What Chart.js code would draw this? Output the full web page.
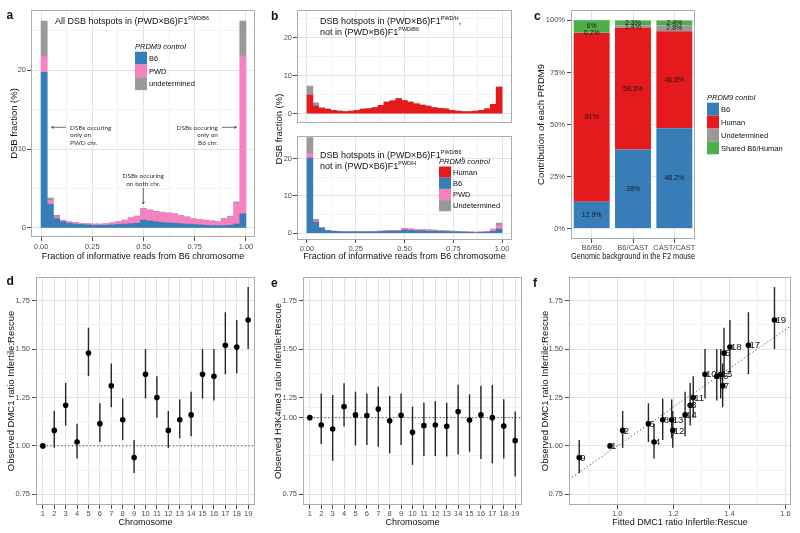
<!DOCTYPE html>
<html>
<head>
<meta charset="utf-8">
<title>DSB hotspots and DMC1 ratios</title>
<script src="https://cdn.jsdelivr.net/npm/chart.js@4.4.1/dist/chart.umd.min.js"></script>
<style>
  body { margin: 0; background: #fff; }
  #fig { position: relative; width: 800px; height: 533px; overflow: hidden; background: #fff; }
  #fig canvas { position: absolute; }
  #notes { position: absolute; left: 0; top: 0; z-index: 2; pointer-events: none; }
</style>
</head>
<body>
<div id="fig">
  <svg id="notes" width="800" height="533" font-family="Liberation Sans, Arial, sans-serif" fill="#111"></svg>
</div>
<script>
// ---- data ----
const nBins = 33;
const binMid = Array.from({ length: nBins }, (_, i) => (i + 0.5) / nBins);

// a: all hotspots, % per bin
const aB6 = [19.7, 3.0, 1.2, 0.8, 0.6, 0.5, 0.45, 0.4, 0.35, 0.35, 0.35, 0.4, 0.45, 0.5, 0.55, 0.6, 1.0,
  0.9, 0.8, 0.7, 0.65, 0.6, 0.55, 0.5, 0.45, 0.4, 0.35, 0.3, 0.3, 0.3, 0.35, 0.5, 1.8];
const aPWD = [2.0, 0.5, 0.2, 0.15, 0.15, 0.2, 0.15, 0.15, 0.15, 0.15, 0.2, 0.25, 0.35, 0.5, 0.75, 0.9, 1.45,
  1.35, 1.25, 1.3, 1.25, 1.2, 1.05, 0.9, 0.75, 0.7, 0.65, 0.6, 0.5, 0.85, 1.05, 2.6, 20.0];
const aUndet = [4.5, 0.3, 0.2, 0.05, 0.05, 0, 0, 0, 0, 0, 0, 0, 0, 0, 0, 0, 0.05,
  0.05, 0.05, 0, 0, 0, 0, 0, 0, 0, 0, 0, 0, 0.05, 0.1, 0.2, 4.4];

// b: hotspots specific to each F1
const bTopHuman = [4.9, 2.0, 1.4, 1.2, 0.9, 0.7, 0.6, 0.7, 0.9, 1.2, 1.35, 1.6, 2.2, 3.1, 3.4, 4.0, 3.5,
  3.1, 2.6, 2.3, 2.0, 1.6, 1.4, 1.3, 0.9, 0.7, 0.6, 0.6, 0.7, 0.9, 1.3, 2.5, 7.0];
const bTopUndet = [2.4, 0.9, 0.2, 0, 0, 0, 0, 0, 0, 0, 0, 0, 0, 0, 0, 0, 0,
  0, 0, 0, 0, 0, 0, 0, 0, 0, 0, 0, 0, 0, 0, 0, 0];
const bBotB6 = [20.1, 3.0, 1.3, 0.7, 0.5, 0.45, 0.4, 0.35, 0.35, 0.35, 0.35, 0.4, 0.45, 0.5, 0.55, 0.55, 0.9,
  0.8, 0.7, 0.65, 0.6, 0.55, 0.5, 0.45, 0.4, 0.35, 0.3, 0.25, 0.2, 0.25, 0.3, 0.5, 1.1];
const bBotPWD = [1.3, 0.3, 0.05, 0.05, 0.05, 0.05, 0.05, 0.05, 0.05, 0.05, 0.1, 0.1, 0.15, 0.2, 0.25, 0.25, 0.4,
  0.35, 0.3, 0.3, 0.3, 0.3, 0.3, 0.25, 0.2, 0.15, 0.1, 0.1, 0.1, 0.15, 0.2, 0.5, 1.0];
const bBotUndet = [4.2, 0.4, 0.2, 0.05, 0, 0, 0, 0, 0, 0, 0, 0, 0, 0, 0, 0, 0,
  0, 0, 0, 0, 0, 0, 0, 0, 0, 0, 0, 0, 0, 0, 0.1, 0.6];

// c: contribution of each PRDM9 (%)
const backgrounds = ['B6/B6', 'B6/CAST', 'CAST/CAST'];
const cB6 = [12.9, 38, 48.2];
const cHuman = [81, 58.3, 46.6];
const cUndet = [0.2, 1.4, 2.8];
const cShared = [6, 2.3, 2.4];

// d-f: per chromosome ratios
const chromosomes = [1, 2, 3, 4, 5, 6, 7, 8, 9, 10, 11, 12, 13, 14, 15, 16, 17, 18, 19];
const dmc1Obs = [1.00, 1.08, 1.21, 1.02, 1.48, 1.115, 1.31, 1.135, 0.94, 1.37, 1.25, 1.08, 1.135, 1.16, 1.37, 1.36, 1.52, 1.51, 1.65];
const dmc1Lo = [1.00, 0.99, 1.105, 0.935, 1.36, 1.02, 1.20, 1.03, 0.86, 1.245, 1.145, 0.99, 1.04, 1.05, 1.245, 1.235, 1.37, 1.375, 1.50];
const dmc1Hi = [1.00, 1.18, 1.325, 1.115, 1.61, 1.22, 1.425, 1.245, 1.03, 1.50, 1.36, 1.18, 1.24, 1.28, 1.50, 1.50, 1.69, 1.65, 1.82];
const h3Obs = [1.00, 0.976, 0.963, 1.036, 1.009, 1.007, 1.028, 0.990, 1.008, 0.952, 0.974, 0.976, 0.972, 1.020, 0.992, 1.009, 1.000, 0.973, 0.925];
const h3Lo = [1.00, 0.914, 0.859, 0.971, 0.909, 0.911, 0.905, 0.884, 0.911, 0.846, 0.875, 0.875, 0.873, 0.880, 0.889, 0.865, 0.851, 0.867, 0.808];
const h3Hi = [1.00, 1.079, 1.074, 1.112, 1.085, 1.079, 1.101, 1.071, 1.079, 1.036, 1.049, 1.054, 1.049, 1.107, 1.076, 1.104, 1.107, 1.060, 1.020];
const dmc1Fit = [0.974, 1.019, 1.26, 1.131, 1.381, 1.111, 1.376, 1.162, 0.864, 1.313, 1.271, 1.198, 1.194, 1.242, 1.369, 1.355, 1.468, 1.402, 1.561];

// tick labels
const fracTicks = [0, 0.25, 0.5, 0.75, 1];
const pctTicks = [0, 10, 20];
const shareTicks = [0, 25, 50, 75, 100];
const ratioTicks = [0.75, 1.0, 1.25, 1.5, 1.75];
const eTickVals = [0.75, 1.0, 1.065, 1.224, 1.382];
const eTickText = ['0.75', '1.00', '1.25', '1.50', '1.75'];
const fitTicks = [1.0, 1.2, 1.4, 1.6];

const col = { B6: '#377EB8', PWD: '#F781BF', Undet: '#999999', Human: '#E41A1C', Shared: '#4DAF4A' };
const FONT = '"Liberation Sans", Arial, sans-serif';

// ---- helpers ----
function mids(t) {
  const s = t[1] - t[0];
  return [t[0] - s / 2].concat(t.map(v => v + s / 2));
}
function between(t) { return t.slice(1).map((v, i) => (v + t[i]) / 2); }

function makeCanvas(left, top, w, h) {
  const c = document.createElement('canvas');
  c.width = w; c.height = h;
  c.style.left = left + 'px'; c.style.top = top + 'px';
  c.style.width = w + 'px'; c.style.height = h + 'px';
  document.getElementById('fig').insertBefore(c, document.getElementById('notes'));
  return c.getContext('2d');
}

function axis(o) {
  const major = o.major;
  const minor = (o.minor || []).filter(v => v > o.min && v < o.max);
  const idx = v => major.findIndex(m => Math.abs(m - v) < 1e-9);
  const horiz = o.pos === 'bottom';
  return {
    type: 'linear', position: o.pos, min: o.min, max: o.max, bounds: 'data', stacked: o.stacked, offset: false,
    afterBuildTicks: s => { s.ticks = major.concat(minor).sort((p, q) => p - q).map(v => ({ value: v })); },
    afterFit: s => { if (horiz) s.height = o.size; else s.width = o.size; },
    border: { display: false },
    grid: {
      offset: false,
      drawTicks: !o.noTicks, tickLength: o.noTicks ? 0 : 4,
      color: c => (c.tick && idx(c.tick.value) >= 0) ? '#e3e3e3' : '#f3f3f3',
      tickColor: c => (c.tick && idx(c.tick.value) >= 0) ? '#4d4d4d' : 'rgba(0,0,0,0)'
    },
    ticks: {
      display: !o.noLabels, autoSkip: false, maxRotation: 0, padding: o.tickPad ?? 2,
      color: '#4d4d4d', font: { family: FONT, size: 7.5 },
      callback: v => { const k = idx(v); return k < 0 ? '' : o.labels[k]; }
    },
    title: o.title ? {
      display: true, text: o.title, color: '#111', font: { family: FONT, size: horiz ? 9 : 9.5 },
      padding: horiz ? { top: 0, bottom: o.titlePad } : { top: o.titlePad, bottom: 0 }
    } : { display: false }
  };
}

function base(t, r, scales) {
  return {
    responsive: false, animation: false, events: [],
    layout: { padding: { left: 0, top: t, right: r, bottom: 0 } },
    plugins: { legend: { display: false }, tooltip: { enabled: false } },
    scales
  };
}

function hist(label, arr, color) {
  return {
    label, data: binMid.map((x, i) => ({ x, y: arr[i] })), backgroundColor: color,
    borderWidth: 0, barPercentage: 1, categoryPercentage: 1, stack: 's'
  };
}

const panelBox = {
  id: 'panelBox',
  afterDraw(chart) {
    const a = chart.chartArea, ctx = chart.ctx;
    ctx.save();
    ctx.strokeStyle = '#ababab'; ctx.lineWidth = 1;
    ctx.strokeRect(Math.round(a.left) + 0.5, Math.round(a.top) + 0.5, Math.round(a.width) - 1, Math.round(a.height) - 1);
    ctx.restore();
  }
};

function errorBars(xs, lo, hi) {
  return {
    id: 'errorBars',
    beforeDatasetsDraw(chart) {
      const { ctx, scales: { x, y } } = chart;
      ctx.save();
      ctx.strokeStyle = '#262626'; ctx.lineWidth = 1.4;
      xs.forEach((v, i) => {
        if (hi[i] <= lo[i]) return;
        const px = x.getPixelForValue(v);
        ctx.beginPath();
        ctx.moveTo(px, y.getPixelForValue(lo[i]));
        ctx.lineTo(px, y.getPixelForValue(hi[i]));
        ctx.stroke();
      });
      ctx.restore();
    }
  };
}

function dottedLine(f) {
  return {
    id: 'dotted',
    beforeDatasetsDraw(chart) {
      const { ctx, chartArea: a, scales: { x, y } } = chart;
      ctx.save();
      ctx.beginPath(); ctx.rect(a.left, a.top, a.width, a.height); ctx.clip();
      ctx.setLineDash([1.2, 2.4]);
      ctx.strokeStyle = '#444'; ctx.lineWidth = 1;
      ctx.beginPath();
      ctx.moveTo(x.getPixelForValue(x.min), y.getPixelForValue(f(x.min)));
      ctx.lineTo(x.getPixelForValue(x.max), y.getPixelForValue(f(x.max)));
      ctx.stroke();
      ctx.restore();
    }
  };
}

const segLabels = {
  id: 'segLabels',
  afterDatasetsDraw(chart) {
    const ctx = chart.ctx;
    ctx.save();
    ctx.font = '7px ' + FONT; ctx.fillStyle = '#1a1a1a';
    ctx.textAlign = 'center'; ctx.textBaseline = 'middle';
    chart.data.datasets.forEach((ds, di) => {
      chart.getDatasetMeta(di).data.forEach((bar, i) => {
        ctx.fillText(ds.data[i] + '%', bar.x, (bar.y + bar.base) / 2);
      });
    });
    ctx.restore();
  }
};

const chrLabels = {
  id: 'chrLabels',
  afterDatasetsDraw(chart) {
    const ctx = chart.ctx;
    ctx.save();
    ctx.font = '9.5px ' + FONT; ctx.fillStyle = '#111';
    ctx.textAlign = 'left'; ctx.textBaseline = 'middle';
    chart.getDatasetMeta(0).data.forEach((pt, i) => ctx.fillText(String(chromosomes[i]), pt.x + 1, pt.y + 0.5));
    ctx.restore();
  }
};

function dots(xs, ys) {
  return {
    data: xs.map((x, i) => ({ x, y: ys[i] })),
    pointRadius: 2.8, pointBackgroundColor: '#000', pointBorderWidth: 0, showLine: false
  };
}

// ---- a ----
new Chart(makeCanvas(0, 0, 262, 266), {
  type: 'bar',
  data: { datasets: [hist('B6', aB6, col.B6), hist('PWD', aPWD, col.PWD), hist('undetermined', aUndet, col.Undet)] },
  options: base(10, 7, {
    x: axis({ pos: 'bottom', min: -0.049, max: 1.044, major: fracTicks, minor: mids(fracTicks),
      labels: fracTicks.map(v => v.toFixed(2)), size: 29, tickPad: 1,
      title: 'Fraction of informative reads from B6 chromosome', titlePad: 4.5 }),
    y: axis({ pos: 'left', min: -1.14, max: 27.6, major: pctTicks, minor: mids(pctTicks), stacked: true,
      labels: pctTicks.map(String), size: 31, tickPad: 1, title: 'DSB fraction (%)', titlePad: 9 })
  }),
  plugins: [panelBox]
});

// ---- b top ----
new Chart(makeCanvas(282, 0, 235, 128), {
  type: 'bar',
  data: { datasets: [hist('Human', bTopHuman, col.Human), hist('Undetermined', bTopUndet, col.Undet)] },
  options: base(10, 5, {
    x: axis({ pos: 'bottom', min: -0.051, max: 1.051, major: fracTicks, minor: mids(fracTicks),
      labels: fracTicks.map(v => v.toFixed(2)), size: 1, noTicks: true, noLabels: true }),
    y: axis({ pos: 'left', min: -2.3, max: 27.3, major: pctTicks, minor: mids(pctTicks), stacked: true,
      labels: pctTicks.map(String), size: 15, tickPad: 1 })
  }),
  plugins: [panelBox]
});

// ---- b bottom ----
new Chart(makeCanvas(282, 130, 235, 136), {
  type: 'bar',
  data: { datasets: [hist('B6', bBotB6, col.B6), hist('PWD', bBotPWD, col.PWD), hist('Undetermined', bBotUndet, col.Undet)] },
  options: base(1, 5, {
    x: axis({ pos: 'bottom', min: -0.051, max: 1.051, major: fracTicks, minor: mids(fracTicks),
      labels: fracTicks.map(v => v.toFixed(2)), size: 27, tickPad: 1,
      title: 'Fraction of informative reads from B6 chromosome', titlePad: 4.5 }),
    y: axis({ pos: 'left', min: -1.54, max: 26.15, major: pctTicks, minor: mids(pctTicks), stacked: true,
      labels: pctTicks.map(String), size: 15, tickPad: 1 })
  }),
  plugins: [panelBox]
});

// ---- c ----
const segment = (label, arr, color) => ({ label, data: arr, backgroundColor: color, borderWidth: 0, barPercentage: 0.87, categoryPercentage: 1 });
new Chart(makeCanvas(535, 0, 165, 266), {
  type: 'bar',
  data: {
    labels: backgrounds,
    datasets: [segment('B6', cB6, col.B6), segment('Human', cHuman, col.Human),
      segment('Undetermined', cUndet, col.Undet), segment('Shared B6/Human', cShared, col.Shared)]
  },
  options: base(10, 5, {
    x: {
      type: 'category', stacked: true, offset: true,
      afterFit: s => { s.height = 27; },
      border: { display: false },
      grid: { offset: false, color: '#e3e3e3', tickColor: '#4d4d4d', tickLength: 4 },
      ticks: { color: '#4d4d4d', font: { family: FONT, size: 7.5 }, padding: 0, maxRotation: 0, autoSkip: false },
      title: { display: true, text: 'Genomic background in the F2 mouse', color: '#111', font: { family: FONT, size: 9 }, padding: { top: 0, bottom: 4.5 } }
    },
    y: axis({ pos: 'left', min: -5, max: 105, major: shareTicks, minor: mids(shareTicks), stacked: true,
      labels: shareTicks.map(v => v + '%'), size: 36, tickPad: 2, title: 'Contribution of each PRDM9', titlePad: 0.6 })
  }),
  plugins: [segLabels, panelBox]
});

// ---- d ----
new Chart(makeCanvas(0, 270, 262, 263), {
  type: 'scatter',
  data: { datasets: [dots(chromosomes, dmc1Obs)] },
  options: base(7, 7, {
    x: axis({ pos: 'bottom', min: 0.4, max: 19.6, major: chromosomes, labels: chromosomes.map(String),
      size: 28, tickPad: 0.5, title: 'Chromosome', titlePad: 5.3 }),
    y: axis({ pos: 'left', min: 0.695, max: 1.872, major: ratioTicks, minor: mids(ratioTicks),
      labels: ratioTicks.map(v => v.toFixed(2)), size: 36, tickPad: 2,
      title: 'Observed DMC1 ratio Infertile:Rescue', titlePad: 6 })
  }),
  plugins: [dottedLine(() => 1), errorBars(chromosomes, dmc1Lo, dmc1Hi), panelBox]
});

// ---- e ----
new Chart(makeCanvas(265, 270, 262, 263), {
  type: 'scatter',
  data: { datasets: [dots(chromosomes, h3Obs)] },
  options: base(7, 5, {
    x: axis({ pos: 'bottom', min: 0.4, max: 19.6, major: chromosomes, labels: chromosomes.map(String),
      size: 28, tickPad: 0.5, title: 'Chromosome', titlePad: 5.3 }),
    y: axis({ pos: 'left', min: 0.715, max: 1.459, major: eTickVals, minor: between(eTickVals),
      labels: eTickText, size: 38, tickPad: 2,
      title: 'Observed H3K4me3 ratio Infertile:Rescue', titlePad: 8 })
  }),
  plugins: [dottedLine(() => 1), errorBars(chromosomes, h3Lo, h3Hi), panelBox]
});

// ---- f ----
new Chart(makeCanvas(530, 270, 270, 263), {
  type: 'scatter',
  data: { datasets: [dots(dmc1Fit, dmc1Obs)] },
  options: base(7, 9, {
    x: axis({ pos: 'bottom', min: 0.8275, max: 1.62, major: fitTicks, minor: mids(fitTicks),
      labels: fitTicks.map(v => v.toFixed(1)), size: 28, tickPad: 0.5,
      title: 'Fitted DMC1 ratio Infertile:Rescue', titlePad: 5.3 }),
    y: axis({ pos: 'left', min: 0.695, max: 1.872, major: ratioTicks, minor: mids(ratioTicks),
      labels: ratioTicks.map(v => v.toFixed(2)), size: 39, tickPad: 2,
      title: 'Observed DMC1 ratio Infertile:Rescue', titlePad: 9.3 })
  }),
  plugins: [dottedLine(v => v), errorBars(dmc1Fit, dmc1Lo, dmc1Hi), chrLabels, panelBox]
});

// ---- text overlay: panel letters, in-panel titles, legends, notes ----
const NS = 'http://www.w3.org/2000/svg';
const svg = document.getElementById('notes');
function el(tag, attrs, parent) {
  const e = document.createElementNS(NS, tag);
  for (const k in attrs) e.setAttribute(k, attrs[k]);
  (parent || svg).appendChild(e);
  return e;
}
function txt(x, y, s, attrs) {
  const t = el('text', Object.assign({ x, y }, attrs || {}));
  t.textContent = s;
  return t;
}
function richText(x, y, parts, size) {
  const t = el('text', { x, y, 'font-size': size });
  let shift = 0;
  parts.forEach(p => {
    const sup = p.startsWith('^');
    const up = sup ? -size * 0.42 : 0;
    const sp = el('tspan', { dy: up - shift }, t);
    if (sup) sp.setAttribute('font-size', size * 0.6);
    sp.textContent = sup ? p.slice(1) : p;
    shift = up;
  });
}
function legend(x, titleY, title, items, keyTop, keyH) {
  txt(x, titleY, title, { 'font-size': 7.5, 'font-style': 'italic' });
  items.forEach(([name, color], i) => {
    const y0 = keyTop + i * keyH;
    el('rect', { x, y: y0, width: 12, height: keyH, fill: color });
    txt(x + 14, y0 + keyH / 2 + 2.7, name, { 'font-size': 7.5 });
  });
}
function arrow(x1, y1, x2, y2) {
  const g = el('g', { stroke: '#333', 'stroke-width': 0.7, fill: 'none' });
  el('line', { x1, y1, x2, y2 }, g);
  const ang = Math.atan2(y2 - y1, x2 - x1), L = 2.6;
  const p = a => `${x2 - L * Math.cos(ang + a)},${y2 - L * Math.sin(ang + a)}`;
  el('polyline', { points: `${p(0.5)} ${x2},${y2} ${p(-0.5)}` }, g);
}

[['a', 6.5, 18.5], ['b', 271, 19.5], ['c', 534, 20], ['d', 6.5, 285], ['e', 271, 286.5], ['f', 533, 287]]
  .forEach(([s, x, y]) => txt(x, y, s, { 'font-size': 12, 'font-weight': 'bold' }));

richText(55, 24, ['All DSB hotspots in (PWD×B6)F1', '^PWD/B6'], 9);
legend(135, 48.7, 'PRDM9 control', [['B6', col.B6], ['PWD', col.PWD], ['undetermined', col.Undet]], 51.7, 12.8);

const note = { 'font-family': 'Lato, sans-serif', 'font-size': 6.5, fill: '#333' };
['DSBs occuring', 'only on', 'PWD chr.'].forEach((s, i) => txt(70, 129.7 + i * 7.7, s, note));
['DSBs occuring', 'only on', 'B6 chr.'].forEach((s, i) => txt(218, 129.7 + i * 7.7, s, Object.assign({ 'text-anchor': 'end' }, note)));
['DSBs occuring', 'on both chr.'].forEach((s, i) => txt(143.3, 177.7 + i * 7.9, s, Object.assign({ 'text-anchor': 'middle' }, note)));
arrow(66, 127.3, 51.5, 127.3);
arrow(222, 127.3, 236.5, 127.3);
arrow(143.3, 188, 143.3, 204);

richText(320, 24, ['DSB hotspots in (PWD×B6)F1', '^PWD/H', ','], 9);
richText(320, 35, ['not in (PWD×B6)F1', '^PWD/B6'], 9);
richText(320, 157.5, ['DSB hotspots in (PWD×B6)F1', '^PWD/B6', ','], 9);
richText(320, 168.5, ['not in (PWD×B6)F1', '^PWD/H'], 9);
legend(439, 163.5, 'PRDM9 control', [['Human', col.Human], ['B6', col.B6], ['PWD', col.PWD], ['Undetermined', col.Undet]], 166.5, 11.2);
txt(0, 0, 'DSB fraction (%)', { transform: 'translate(281.8,129) rotate(-90)', 'text-anchor': 'middle', 'font-size': 9.5 });

legend(707, 99.7, 'PRDM9 contol', [['B6', col.B6], ['Human', col.Human], ['Undetermined', col.Undet], ['Shared B6/Human', col.Shared]], 102.7, 12.9);
</script>
</body>
</html>
